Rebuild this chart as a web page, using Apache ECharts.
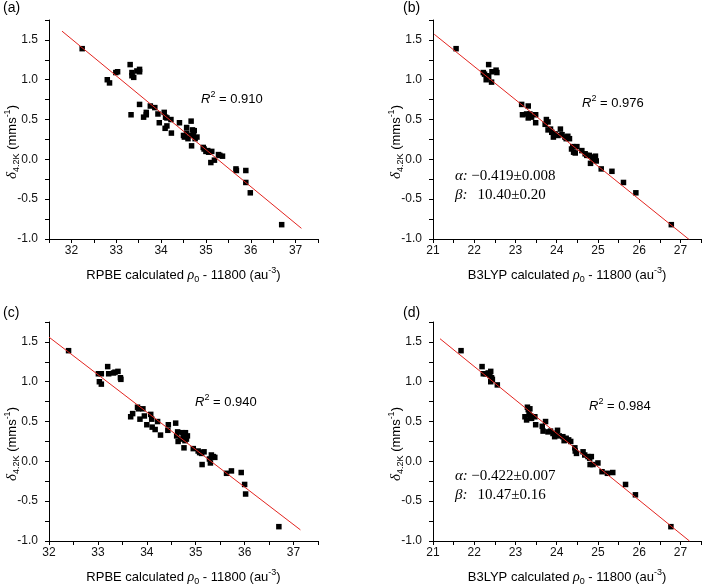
<!DOCTYPE html>
<html><head><meta charset="utf-8">
<script src="https://cdn.jsdelivr.net/npm/echarts/dist/echarts.min.js"></script>
<style>html,body{margin:0;padding:0;background:#fff}#c{width:704px;height:588px}</style>
</head><body><div id="c"></div>
<script>
// Panel (a): RPBE
const aX = [32.24,32.80,32.85,32.99,33.03,33.31,33.35,33.35,33.39,33.46,33.52,33.52,33.33,33.52,33.61,33.67,33.67,33.76,33.86,33.93,33.96,34.07,34.10,34.13,34.13,34.09,34.22,34.23,34.41,34.50,34.52,34.57,34.60,34.57,34.67,34.68,34.68,34.70,34.74,34.72,34.76,34.80,34.94,34.96,35.00,35.04,35.06,35.13,35.11,35.19,35.28,35.31,35.37,35.67,35.68,35.89,35.89,35.99,36.69];
const aY = [1.39,1.00,0.96,1.09,1.10,1.19,1.09,1.05,1.03,1.11,1.13,1.10,0.56,0.69,0.53,0.56,0.59,0.67,0.65,0.57,0.46,0.59,0.53,0.42,0.52,0.39,0.50,0.33,0.46,0.30,0.28,0.40,0.26,0.33,0.48,0.30,0.17,0.37,0.36,0.32,0.26,0.28,0.15,0.13,0.10,0.11,0.09,0.10,-0.04,-0.01,0.06,0.05,0.04,-0.12,-0.14,-0.14,-0.29,-0.42,-0.82];
const aFitX = [31.79, 37.13];
const aFitY = [1.61, -0.866];

// Panel (b): B3LYP
const bX = [21.56,22.22,22.25,22.30,22.29,22.35,22.35,22.42,22.43,22.53,22.55,23.15,23.17,23.27,23.31,23.31,23.35,23.39,23.49,23.49,23.72,23.75,23.79,23.79,23.85,23.88,23.92,23.96,24.03,24.09,24.13,24.20,24.23,24.27,24.31,24.36,24.39,24.41,24.45,24.49,24.61,24.69,24.73,24.79,24.82,24.86,24.88,24.94,24.96,25.08,25.34,25.62,25.92,26.78];
const bY = [1.39,1.09,1.07,1.05,1.00,1.19,1.04,0.97,1.10,1.12,1.09,0.69,0.56,0.57,0.67,0.52,0.57,0.53,0.46,0.56,0.44,0.50,0.47,0.37,0.38,0.34,0.28,0.32,0.30,0.38,0.31,0.28,0.26,0.29,0.26,0.13,0.16,0.09,0.08,0.16,0.11,0.07,0.05,0.05,-0.05,0.03,-0.01,0.04,-0.02,-0.12,-0.15,-0.29,-0.42,-0.82];
const bFitX = [21.03, 27.22];
const bFitY = [1.571, -1.01];

// Panel (c): RPBE
const cX = [32.40,33.01,33.07,33.03,33.07,33.20,33.22,33.32,33.35,33.41,33.46,33.47,33.67,33.71,33.81,33.83,33.86,33.92,33.95,34.00,34.08,34.10,34.11,34.17,34.22,34.28,34.44,34.43,34.59,34.61,34.63,34.64,34.69,34.73,34.75,34.76,34.79,34.81,34.83,34.78,34.95,35.05,35.08,35.12,35.17,35.13,35.28,35.30,35.32,35.36,35.39,35.63,35.73,35.93,36.00,36.02,36.70];
const cY = [1.39,1.10,1.10,1.00,0.97,1.19,1.10,1.11,1.12,1.13,1.05,1.03,0.56,0.60,0.68,0.66,0.53,0.66,0.57,0.46,0.59,0.53,0.43,0.40,0.50,0.33,0.46,0.39,0.48,0.32,0.37,0.25,0.28,0.36,0.30,0.17,0.36,0.28,0.32,0.26,0.16,0.13,0.11,0.10,0.12,-0.04,0.03,-0.02,0.08,0.06,0.05,-0.15,-0.12,-0.14,-0.29,-0.41,-0.82];
const cFitX = [32.0, 37.14];
const cFitY = [1.56, -0.86];

// Panel (d): B3LYP
const dX = [21.68,22.19,22.22,22.27,22.34,22.38,22.40,22.42,22.40,22.44,22.56,23.23,23.27,23.29,23.31,23.33,23.35,23.37,23.39,23.47,23.49,23.65,23.67,23.73,23.79,23.85,23.91,23.95,23.99,24.02,24.06,24.15,24.18,24.23,24.29,24.34,24.44,24.45,24.48,24.64,24.68,24.76,24.80,24.81,24.84,24.88,25.00,25.10,25.23,25.36,25.67,25.91,26.77];
const dY = [1.39,1.19,1.10,1.10,1.11,1.08,1.13,1.05,1.00,1.03,0.96,0.56,0.52,0.68,0.65,0.59,0.66,0.57,0.54,0.56,0.46,0.44,0.38,0.50,0.37,0.38,0.35,0.31,0.35,0.39,0.32,0.31,0.26,0.29,0.27,0.25,0.17,0.13,0.10,0.12,0.08,0.06,0.04,-0.04,0.06,-0.04,-0.02,-0.13,-0.15,-0.14,-0.29,-0.42,-0.82];
const dFitX = [21.17, 27.22];
const dFitY = [1.54, -1.0];

const xRanges = [[31.5,37.5],[21,27.5],[32,37.5],[21,27.5]];
const yRange = [-1.0, 1.75];
const methods = ['RPBE','B3LYP','RPBE','B3LYP'];
const r2Labels = ['0.910','0.976','0.940','0.984'];
const panelLabels = ['(a)','(b)','(c)','(d)'];
const alphaLabels = [null,'\u22120.419\u00b10.008',null,'\u22120.422\u00b10.007'];
const betaLabels = [null,'10.40\u00b10.20',null,'10.47\u00b10.16'];

const sets = [[aX,aY,aFitX,aFitY],[bX,bY,bFitX,bFitY],[cX,cY,cFitX,cFitY],[dX,dY,dFitX,dFitY]];
const zip = (xs, ys) => xs.map((x, i) => [x, ys[i]]);

const SANS = "'Liberation Sans', Arial, sans-serif";
const SERIF = "'Liberation Serif', 'Times New Roman', serif";
const TXT = '#000';

const grids = [
  {left:49, top:20, width:269, height:219},
  {left:433, top:20, width:269, height:219},
  {left:49, top:322, width:269, height:219},
  {left:433, top:322, width:269, height:219}
];

const axisLineStyle = {show:true, onZero:false, lineStyle:{color:'#000', width:1}};
const xAxes = [], yAxes = [], series = [], graphics = [];

const nameRich = {
  n: {fontSize:13, fontFamily:SANS, color:TXT, lineHeight:18},
  r: {fontSize:14, fontFamily:SERIF, fontStyle:'italic', color:TXT, lineHeight:18},
  sub: {fontSize:9, fontFamily:SANS, color:TXT, verticalAlign:'bottom', lineHeight:10},
  sup: {fontSize:9, fontFamily:SANS, color:TXT, verticalAlign:'top', lineHeight:10}
};

for (let i = 0; i < 4; i++) {
  xAxes.push({
    type:'value', gridIndex:i, min:xRanges[i][0], max:xRanges[i][1], interval:0.5,
    axisLine: axisLineStyle,
    axisTick:{show:true, length:4, inside:false, lineStyle:{color:'#000'}},
    splitLine:{show:false},
    axisLabel:{margin:6, fontSize:12, fontFamily:SANS, color:'#111',
      formatter: v => Math.abs(v - Math.round(v)) < 1e-6 ? String(Math.round(v)) : ''},
    name: '{n|' + methods[i] + ' calculated }{r|\u03c1}{sub|0}{n| - 11800 (au}{sup|-3}{n|)}',
    nameLocation:'middle', nameGap:27,
    nameTextStyle:{rich:nameRich}
  });
  yAxes.push({
    type:'value', gridIndex:i, min:yRange[0], max:yRange[1], interval:0.25,
    axisLine: axisLineStyle,
    axisTick:{show:true, length:4, inside:false, lineStyle:{color:'#000'}},
    splitLine:{show:false},
    axisLabel:{margin:11, fontSize:12, fontFamily:SANS, color:'#111',
      formatter: v => Math.abs(v*2 - Math.round(v*2)) < 1e-6 && v < 1.7 ? v.toFixed(1) : ''}
  });
  const s = sets[i];
  series.push({
    type:'line', xAxisIndex:i, yAxisIndex:i, data: zip(s[2], s[3]),
    symbol:'none', silent:true, z:3,
    lineStyle:{color:'#e3241f', width:1}
  });
  series.push({
    type:'scatter', xAxisIndex:i, yAxisIndex:i, data: zip(s[0], s[1]),
    symbol:'rect', symbolSize:5.5, z:2,
    itemStyle:{color:'#000', opacity:1}
  });
}

const titleRich = {
  d: {fontSize:15, fontFamily:SERIF, fontStyle:'italic', fill:TXT, lineHeight:18},
  s: {fontSize:9, fontFamily:SANS, fill:TXT, verticalAlign:'bottom', lineHeight:10},
  n: {fontSize:13, fontFamily:SANS, fill:TXT, lineHeight:18},
  p: {fontSize:9, fontFamily:SANS, fill:TXT, verticalAlign:'top', lineHeight:10}
};
const r2Rich = {
  i: {fontSize:13, fontFamily:SANS, fontStyle:'italic', fill:TXT, lineHeight:18},
  p: {fontSize:9, fontFamily:SANS, fill:TXT, verticalAlign:'top', lineHeight:10},
  n: {fontSize:13, fontFamily:SANS, fill:TXT, lineHeight:18}
};
const greekRich = {
  g: {fontSize:15, fontFamily:SERIF, fontStyle:'italic', fill:TXT},
  n: {fontSize:15, fontFamily:SERIF, fill:TXT}
};

const panelPos = [[3,8],[403,8],[3,313],[403,313]];
const yTitlePos = [[12,142],[396,142],[12,444],[396,444]];
const r2Pos = [[201,99],[582,103],[195,402],[589,406]];
const greekPos = [null,[455,176],null,[455,476]];

for (let i = 0; i < 4; i++) {
  graphics.push({type:'text', x:panelPos[i][0], y:panelPos[i][1],
    style:{text:panelLabels[i], font:'14px ' + SANS, fill:TXT, align:'left', verticalAlign:'middle'}});
  graphics.push({type:'text', x:yTitlePos[i][0], y:yTitlePos[i][1], rotation:Math.PI/2,
    style:{text:'{d|\u03b4}{s|4.2K}{n| (mms}{p|-1}{n|)}', rich:titleRich, align:'center', verticalAlign:'middle'}});
  graphics.push({type:'text', x:r2Pos[i][0], y:r2Pos[i][1],
    style:{text:'{i|R}{p|2}{n| = ' + r2Labels[i] + '}', rich:r2Rich, align:'left', verticalAlign:'middle'}});
  if (alphaLabels[i]) {
    graphics.push({type:'text', x:greekPos[i][0], y:greekPos[i][1],
      style:{text:'{g|\u03b1:} {n|' + alphaLabels[i] + '}', rich:greekRich, align:'left', verticalAlign:'middle'}});
    graphics.push({type:'text', x:greekPos[i][0], y:greekPos[i][1] + 19,
      style:{text:'{g|\u03b2:}   {n|' + betaLabels[i] + '}', rich:greekRich, align:'left', verticalAlign:'middle'}});
  }
}

const chart = echarts.init(document.getElementById('c'), null, {renderer:'canvas'});
chart.setOption({
  animation:false,
  backgroundColor:'#fff',
  grid: grids,
  xAxis: xAxes,
  yAxis: yAxes,
  series: series,
  graphic: graphics
});
</script></body></html>
